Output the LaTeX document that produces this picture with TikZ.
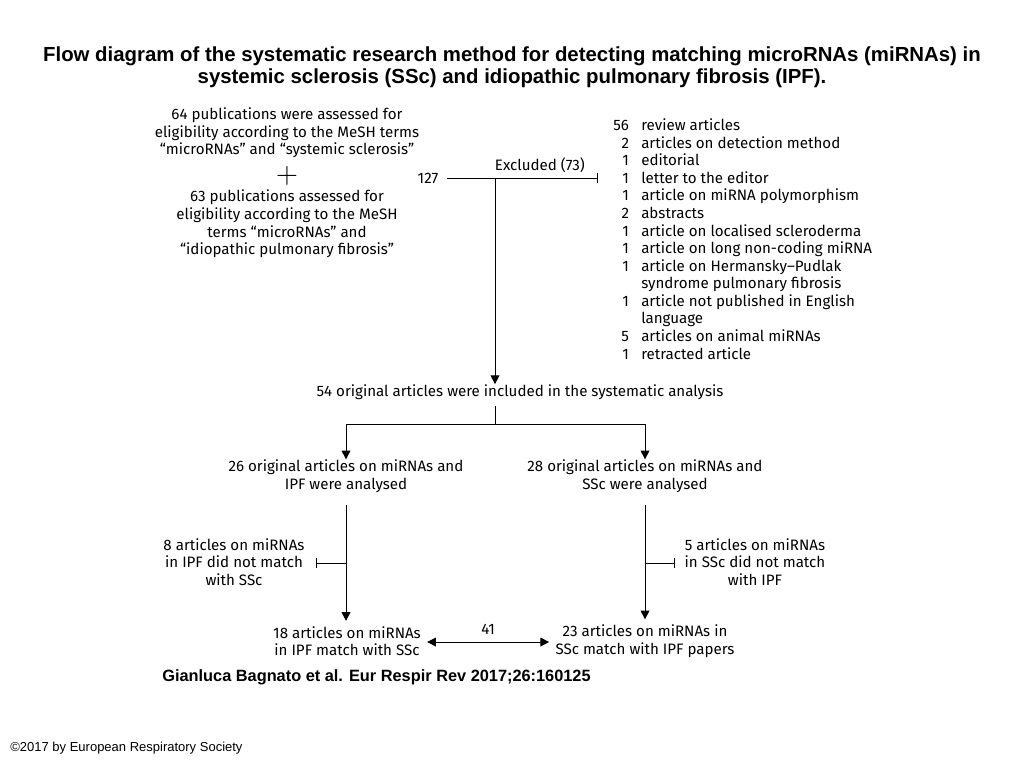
\documentclass[tikz,border=0pt]{standalone}
\usepackage{fontspec}
\setmainfont{Fira Sans}
\newfontfamily\arialfont{Liberation Sans}
\usetikzlibrary{arrows.meta, positioning, calc}
\tikzstyle{txt} = [inner sep=0pt, align=center, font=\fontsize{8.6}{10}\selectfont]
\tikzstyle{arrow} = [line width=.5pt, -{Triangle[length=5pt,width=5pt]}]
\tikzstyle{cut} = [line width=.5pt, -{Bar[width=6pt]}]
\begin{document}
\begin{tikzpicture}[x=0.02cm, y=-0.02cm]
            \useasboundingbox (0,0) rectangle (1024,768);
            \node (title) [align=center, font=\arialfont\bfseries\fontsize{11.6}{12.6}\selectfont] at (512,67) {Flow diagram of the systematic research method for detecting matching microRNAs (miRNAs) in\\systemic sclerosis (SSc) and idiopathic pulmonary fibrosis (IPF).};
            \node (ssc) [txt] at (287,133) {64 publications were assessed for\\eligibility according to the MeSH terms\\``microRNAs'' and ``systemic sclerosis''};
            \node (plus) [txt, font=\fontsize{16}{16}\selectfont] at (287,176) {$+$};
            \node (ipf) [txt] at (287,224) {63 publications assessed for\\eligibility according to the MeSH\\terms ``microRNAs'' and\\``idiopathic pulmonary fibrosis''};
            \node (total) [txt] at (428,178) {127};
            \node (excl) [txt, anchor=north west, font=\fontsize{8.6}{10}\selectfont] at (613,118) {%
                \begin{tabular}{@{}r@{\hspace{7pt}}l@{}}
                56 & review articles\\
                2 & articles on detection method\\
                1 & editorial\\
                1 & letter to the editor\\
                1 & article on miRNA polymorphism\\
                2 & abstracts\\
                1 & article on localised scleroderma\\
                1 & article on long non-coding miRNA\\
                1 & article on Hermansky--Pudlak\\
                  & syndrome pulmonary fibrosis\\
                1 & article not published in English\\
                  & language\\
                5 & articles on animal miRNAs\\
                1 & retracted article
                \end{tabular}};
            \node (included) [txt] at (520,392) {54 original articles were included in the systematic analysis};
            \node (ipf26) [txt] at (346,476) {26 original articles on miRNAs and\\IPF were analysed};
            \node (ssc28) [txt] at (645,476) {28 original articles on miRNAs and\\SSc were analysed};
            \node (ipfout) [txt] at (234,562) {8 articles on miRNAs\\in IPF did not match\\with SSc};
            \node (sscout) [txt] at (755,562) {5 articles on miRNAs\\in SSc did not match\\with IPF};
            \node (ipf18) [txt] at (347,641) {18 articles on miRNAs\\in IPF match with SSc};
            \node (ssc23) [txt] at (645,641) {23 articles on miRNAs in\\SSc match with IPF papers};
            \node (cite) [anchor=west, inner sep=0pt, font=\arialfont\bfseries\fontsize{9.3}{10}\selectfont] at (162,677) {Gianluca Bagnato et al. Eur Respir Rev 2017;26:160125};
            \node (copy) [anchor=west, inner sep=0pt, font=\arialfont\fontsize{7.4}{8}\selectfont] at (10,748) {©2017 by European Respiratory Society};

            \coordinate (j1) at (495,178);
            \coordinate (j2) at (495,424);
            \coordinate (j3) at (346,563);
            \coordinate (j4) at (645,563);
            \draw [cut] (total.east)+(8,0) -- (598,178) node [txt, midway, above=3pt, xshift=10pt] {Excluded (73)};
            \draw [arrow] (j1) -- (included.north -| j1);
            \draw [line width=.5pt] (included.south -| j2)+(0,6) -- (j2);
            \draw [arrow] (j2) -| (ipf26.north);
            \draw [arrow] (j2) -| (ssc28.north);
            \draw [arrow] ($(ipf26.south)+(0,12)$) -- ($(ipf18.north)+(-1,-5)$);
            \draw [arrow] ($(ssc28.south)+(0,12)$) -- ($(ssc23.north)+(0,-5)$);
            \draw [cut] (j3) -- (316,563);
            \draw [cut] (j4) -- (675,563);
            \draw [line width=.5pt, {Triangle[length=5pt,width=5pt]}-{Triangle[length=5pt,width=5pt]}] ($(ipf18.east)+(6,1)$) -- ($(ssc23.west)+(-6,1)$) node [txt, midway, above=4pt] {41};
        \end{tikzpicture}
\end{document}
